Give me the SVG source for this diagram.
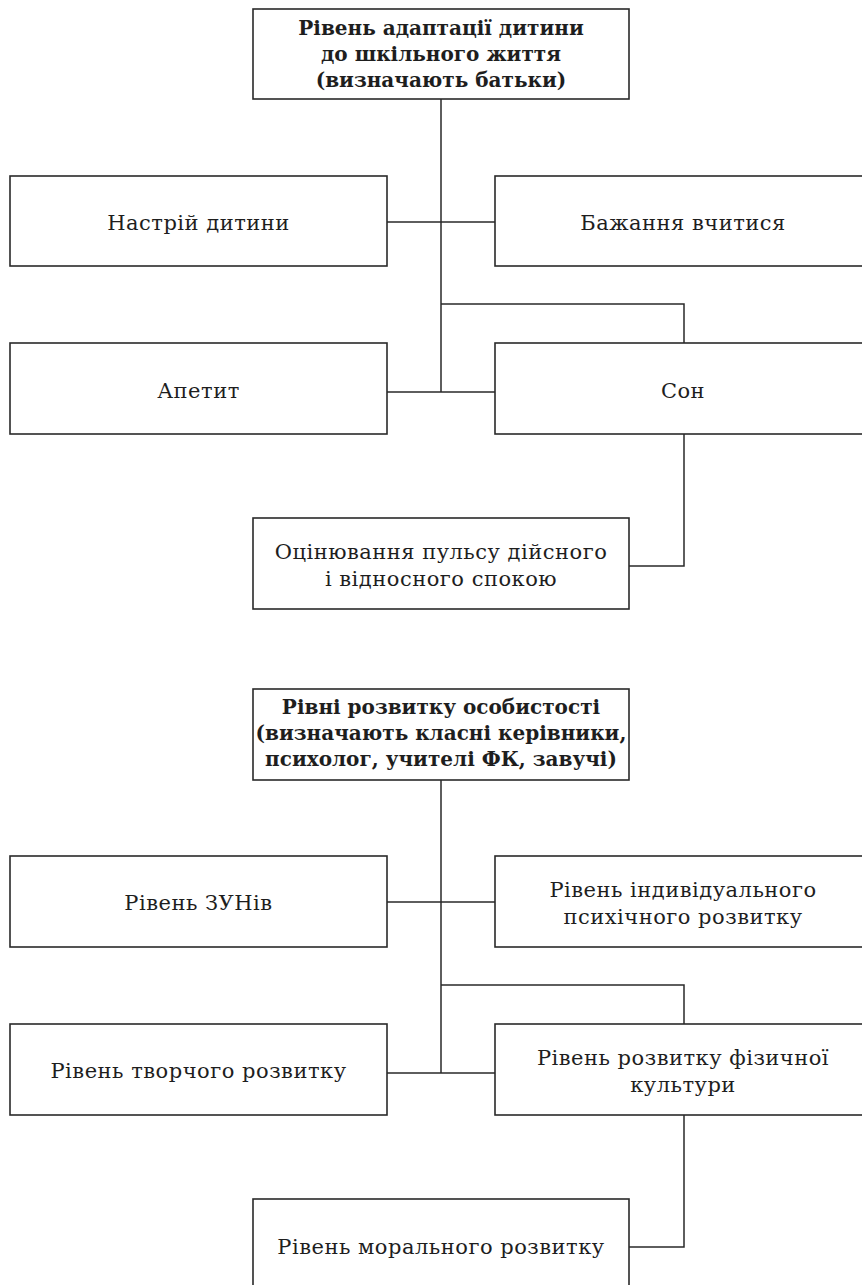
<svg xmlns="http://www.w3.org/2000/svg" width="862" height="1285" viewBox="0 0 862 1285">
<style>
.box{fill:#fff;stroke:#2a2a2a;stroke-width:1.6}
.t{font-family:"DejaVu Serif","Liberation Serif",serif;font-size:21px;letter-spacing:0.5px;fill:#1e1e1e;text-anchor:middle}
.b{font-weight:bold;font-size:20px;letter-spacing:0}
.c{fill:none;stroke:#2a2a2a;stroke-width:1.5}
</style>
<rect width="862" height="1285" fill="#fff"/>
<g id="connectors">
<path class="c" d="M441 99V392M387 222H495M387 392H495M441 304H684V343M684 434V566H629"/>
<path class="c" d="M441 780V1073M387 902H495M387 1073H495M441 985H684V1024M684 1115V1247H629"/>
</g>
<g id="n1"><rect class="box" x="253" y="9" width="376" height="90"/>
<text class="t b" x="441" y="35">Рівень адаптації дитини</text>
<text class="t b" x="441" y="61">до шкільного життя</text>
<text class="t b" x="441" y="87">(визначають батьки)</text></g>
<g id="n2"><rect class="box" x="10" y="176" width="377" height="90"/>
<text class="t" x="198.5" y="230">Настрій дитини</text></g>
<g id="n3"><rect class="box" x="495" y="176" width="377" height="90"/>
<text class="t" x="683" y="230">Бажання вчитися</text></g>
<g id="n4"><rect class="box" x="10" y="343" width="377" height="91"/>
<text class="t" x="198.5" y="398">Апетит</text></g>
<g id="n5"><rect class="box" x="495" y="343" width="377" height="91"/>
<text class="t" x="683" y="398">Сон</text></g>
<g id="n6"><rect class="box" x="253" y="518" width="376" height="91"/>
<text class="t" x="441" y="559">Оцінювання пульсу дійсного</text>
<text class="t" x="441" y="586">і відносного спокою</text></g>
<g id="n7"><rect class="box" x="253" y="689" width="376" height="91"/>
<text class="t b" x="441" y="714">Рівні розвитку особистості</text>
<text class="t b" x="441" y="740">(визначають класні керівники,</text>
<text class="t b" x="441" y="766">психолог, учителі ФК, завучі)</text></g>
<g id="n8"><rect class="box" x="10" y="856" width="377" height="91"/>
<text class="t" x="198.5" y="910">Рівень ЗУНів</text></g>
<g id="n9"><rect class="box" x="495" y="856" width="377" height="91"/>
<text class="t" x="683" y="897">Рівень індивідуального</text>
<text class="t" x="683" y="924">психічного розвитку</text></g>
<g id="n10"><rect class="box" x="10" y="1024" width="377" height="91"/>
<text class="t" x="198.5" y="1078">Рівень творчого розвитку</text></g>
<g id="n11"><rect class="box" x="495" y="1024" width="377" height="91"/>
<text class="t" x="683" y="1065">Рівень розвитку фізичної</text>
<text class="t" x="683" y="1092">культури</text></g>
<g id="n12"><rect class="box" x="253" y="1199" width="376" height="92"/>
<text class="t" x="441" y="1254">Рівень морального розвитку</text></g>
</svg>
